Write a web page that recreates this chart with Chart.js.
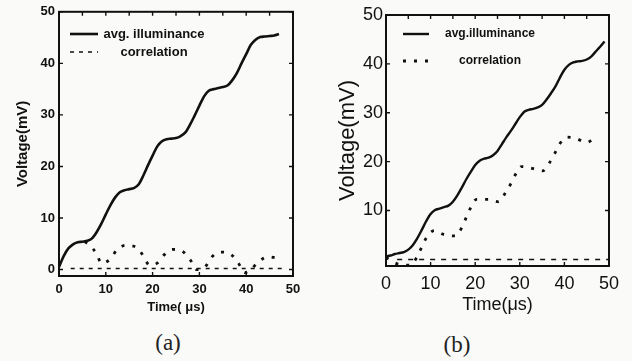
<!DOCTYPE html>
<html>
<head>
<meta charset="utf-8">
<script src="https://cdn.jsdelivr.net/npm/chart.js@4.4.0/dist/chart.umd.min.js"></script>
<style>
    body { margin: 0; background: #fafaf8; width: 632px; height: 361px; overflow: hidden; position: relative; }
    canvas { position: absolute; top: 0; }
    #chart-a { left: 0; }
    #chart-b { left: 320px; }
    .cap { position: absolute; font-family: "Liberation Serif", "DejaVu Serif", serif; font-size: 23px; color: #222; transform: translate(-50%, -50%); }
</style>
</head>
<body>
<canvas id="chart-a" width="316" height="320"></canvas>
<canvas id="chart-b" width="312" height="320"></canvas>
<div class="cap" style="left:168px; top:343px">(a)</div>
<div class="cap" style="left:457px; top:345px">(b)</div>
<script>
// ticks //
///////////
var xTicks = [0, 10, 20, 30, 40, 50]
var yTicksA = [0, 10, 20, 30, 40, 50]
var yTicksB = [10, 20, 30, 40, 50]

// panel (a) //
///////////////
var timeA = [0, 1, 2, 3, 4, 5, 6, 7, 8, 9, 10, 11, 12, 13, 14, 15, 16, 17, 18, 19, 20, 21, 22, 23,
    24, 25, 26, 27, 28, 29, 30, 31, 32, 33, 34, 35, 36, 37, 38, 39, 40, 41, 42, 43, 44, 45, 46, 47]
var illumA = [0.5, 2.6, 4.1, 4.9, 5.3, 5.4, 5.6, 6.0, 7.2, 8.8, 10.7, 12.5, 14.0, 15.0, 15.4, 15.6,
    15.8, 16.5, 18.2, 20.2, 22.1, 23.9, 24.9, 25.3, 25.4, 25.5, 25.9, 26.6, 28.1, 29.9, 31.8, 33.6,
    34.7, 35.0, 35.2, 35.4, 35.7, 36.7, 38.1, 40.0, 41.8, 43.6, 44.6, 45.1, 45.2, 45.3, 45.4, 45.7]
var corrTimeA = [2.5, 48]
var corrA = [0.2, 0.2]
var dotTimeA = [5.5, 6.6, 8.0, 9.1, 10.9, 12.3, 14.2, 16.6, 18.0, 19.3, 20.9, 22.4, 24.3, 26.6,
    28.1, 29.4, 31.2, 32.6, 34.4, 36.8, 38.3, 39.7, 40.9, 42.6, 44.7, 47.0]
var dotA = [5.4, 4.7, 3.1, 1.2, 2.0, 3.7, 4.7, 4.3, 2.7, 0.9, 1.2, 2.8, 3.9, 3.4,
    1.8, 0.0, 0.5, 2.4, 3.4, 2.9, 1.3, -0.6, -0.1, 1.5, 2.5, 2.1]

// panel (b) //
///////////////
var timeB = [0, 1, 2, 3, 4, 5, 6, 7, 8, 9, 10, 11, 12, 13, 14, 15, 16, 17, 18, 19, 20, 21, 22, 23, 24,
    25, 26, 27, 28, 29, 30, 31, 32, 33, 34, 35, 36, 37, 38, 39, 40, 41, 42, 43, 44, 45, 46, 47, 48, 49]
var illumB = [0.6, 0.8, 1.1, 1.3, 1.5, 2.0, 2.9, 4.3, 6.0, 7.8, 9.3, 10.1, 10.4, 10.7, 11.0, 11.8,
    13.1, 14.7, 16.4, 17.9, 19.3, 20.2, 20.6, 20.8, 21.3, 22.2, 23.6, 25.0, 26.3, 27.7, 29.1, 30.2,
    30.6, 30.8, 31.1, 31.6, 32.7, 34.0, 35.4, 37.2, 38.8, 39.8, 40.3, 40.5, 40.6, 40.9, 41.5, 42.5,
    43.5, 44.6]
var corrTimeB = [0, 2.5, 5.4, 6.9, 8.0, 9.1, 10.8, 12.9, 15.5, 17.0, 17.9, 19.0, 20.3, 22.9, 25.2,
    26.7, 28.0, 29.3, 30.4, 32.8, 35.1, 36.6, 37.9, 39.0, 40.5, 42.7, 45.0, 46.9]
var corrB = [0.4, -0.9, -1.2, 0.4, 2.5, 4.5, 5.9, 5.1, 4.8, 6.5, 8.4, 10.6, 12.3, 12.3, 11.8,
    13.5, 15.5, 17.8, 19.0, 18.6, 18.1, 19.7, 21.8, 23.7, 25.0, 24.7, 23.9, 25.0]
var baseTimeB = [2.5, 50]
var baseB = [0, 0]

var ink = '#111'

function pts(xs, ys) {
    return xs.map(function (x, i) { return { x: x, y: ys[i] } })
}

// box with inward ticks, like the matlab plots
const framePlugin = {
    id: 'frame',
    afterDatasetsDraw(chart, args, opts) {
        const ctx = chart.ctx
        const a = chart.chartArea
        const x = chart.scales.x
        const y = chart.scales.y
        ctx.save()
        ctx.strokeStyle = ink
        ctx.lineWidth = opts.width
        ctx.strokeRect(a.left, a.top, a.right - a.left, a.bottom - a.top)
        ctx.lineWidth = 1.4
        ctx.beginPath()
        for (var v = x.min; v <= x.max; v += 5) {
            var px = x.getPixelForValue(v)
            ctx.moveTo(px, a.top)
            ctx.lineTo(px, a.top + opts.len)
        }
        xTicks.forEach(function (v) {
            var px = x.getPixelForValue(v)
            ctx.moveTo(px, a.bottom)
            ctx.lineTo(px, a.bottom - opts.len)
        })
        y.ticks.forEach(function (t) {
            var py = y.getPixelForValue(t.value)
            ctx.moveTo(a.left, py)
            ctx.lineTo(a.left + opts.len, py)
            ctx.moveTo(a.right, py)
            ctx.lineTo(a.right - opts.len, py)
        })
        ctx.stroke()
        ctx.restore()
    }
}

// legend drawn inside the plot box
const boxLegend = {
    id: 'boxLegend',
    afterDatasetsDraw(chart, args, o) {
        const ctx = chart.ctx
        ctx.save()
        ctx.font = o.font
        ctx.fillStyle = ink
        ctx.textAlign = 'center'
        ctx.textBaseline = 'middle'
        var row = 0
        chart.data.datasets.forEach(function (ds) {
            if (!ds.label) return
            var yy = o.rows[row++]
            ctx.strokeStyle = ds.borderColor
            ctx.lineWidth = ds.borderWidth
            ctx.setLineDash(ds.borderDash || [])
            ctx.beginPath()
            ctx.moveTo(o.x1, yy)
            ctx.lineTo(o.x2, yy)
            ctx.stroke()
            ctx.setLineDash([])
            ctx.fillText(ds.label, o.textX, yy)
        })
        ctx.restore()
    }
}

function makeScales(p) {
    return {
        x: {
            type: 'linear', min: 0, max: 50,
            afterBuildTicks: function (s) { s.ticks = xTicks.map(function (v) { return { value: v } }) },
            afterFit: function (s) { s.height = p.xHeight },
            grid: { display: false, drawTicks: false },
            border: { display: false },
            ticks: { color: ink, padding: p.xPad, maxRotation: 0, font: p.tickFont },
            title: { display: true, text: p.xTitle, color: ink, font: p.xTitleFont, padding: { top: 0, bottom: p.xTitlePad } }
        },
        y: {
            type: 'linear', min: p.yMin, max: 50,
            afterBuildTicks: function (s) { s.ticks = p.yTicks.map(function (v) { return { value: v } }) },
            afterFit: function (s) { s.width = p.yWidth },
            grid: { display: false, drawTicks: false },
            border: { display: false },
            ticks: { color: ink, padding: p.yPad, font: p.tickFont },
            title: { display: true, text: 'Voltage(mV)', color: ink, font: p.yTitleFont, padding: { top: p.yTitlePad, bottom: 0 } }
        }
    }
}

var sans = "'Liberation Sans', Arial, sans-serif"

var chartA = new Chart(document.getElementById('chart-a'), {
    type: 'line',
    data: {
        datasets: [
            { label: 'avg. illuminance', data: pts(timeA, illumA), borderColor: ink, borderWidth: 2.6, cubicInterpolationMode: 'monotone' },
            { label: 'correlation', data: pts(corrTimeA, corrA), borderColor: ink, borderWidth: 1.6, borderDash: [4, 5] },
            { label: '', data: pts(dotTimeA, dotA), borderColor: ink, borderWidth: 2.8, borderDash: [3, 8], cubicInterpolationMode: 'monotone' }
        ]
    },
    plugins: [framePlugin, boxLegend],
    options: {
        responsive: false,
        animation: false,
        elements: { point: { radius: 0 } },
        layout: { padding: { top: 8, right: 23, left: 0, bottom: 0 } },
        scales: makeScales({
            xHeight: 44, yWidth: 59, yMin: -1.25, yTicks: yTicksA, xPad: 6, yPad: 4,
            tickFont: { family: sans, size: 13, weight: 'bold' },
            xTitle: 'Time( μs)', xTitleFont: { family: sans, size: 13, weight: 'bold' }, xTitlePad: 5,
            yTitleFont: { family: sans, size: 15, weight: 'bold' }, yTitlePad: 14
        }),
        plugins: {
            legend: { display: false },
            tooltip: { enabled: false },
            frame: { width: 2, len: 4 },
            boxLegend: { x1: 70, x2: 98, textX: 154, rows: [34, 52], font: "bold 13px 'Liberation Sans', Arial, sans-serif" }
        }
    }
})

var chartB = new Chart(document.getElementById('chart-b'), {
    type: 'line',
    data: {
        datasets: [
            { label: 'avg.illuminance', data: pts(timeB, illumB), borderColor: ink, borderWidth: 2.4, cubicInterpolationMode: 'monotone' },
            { label: 'correlation', data: pts(corrTimeB, corrB), borderColor: ink, borderWidth: 2.8, borderDash: [3, 8], cubicInterpolationMode: 'monotone' },
            { label: '', data: pts(baseTimeB, baseB), borderColor: ink, borderWidth: 1.5, borderDash: [5, 6] }
        ]
    },
    plugins: [framePlugin, boxLegend],
    options: {
        responsive: false,
        animation: false,
        elements: { point: { radius: 0 } },
        layout: { padding: { top: 15, right: 23, left: 0, bottom: 0 } },
        scales: makeScales({
            xHeight: 54, yWidth: 66, yMin: -1.35, yTicks: yTicksB, xPad: 7, yPad: 3,
            tickFont: { family: sans, size: 18 },
            xTitle: 'Time(μs)', xTitleFont: { family: sans, size: 18 }, xTitlePad: 4,
            yTitleFont: { family: sans, size: 22 }, yTitlePad: 15
        }),
        plugins: {
            legend: { display: false },
            tooltip: { enabled: false },
            frame: { width: 2, len: 4 },
            boxLegend: { x1: 83, x2: 109, textX: 170, rows: [34, 61], font: "bold 12px 'Liberation Sans', Arial, sans-serif" }
        }
    }
})
</script>
</body>
</html>
